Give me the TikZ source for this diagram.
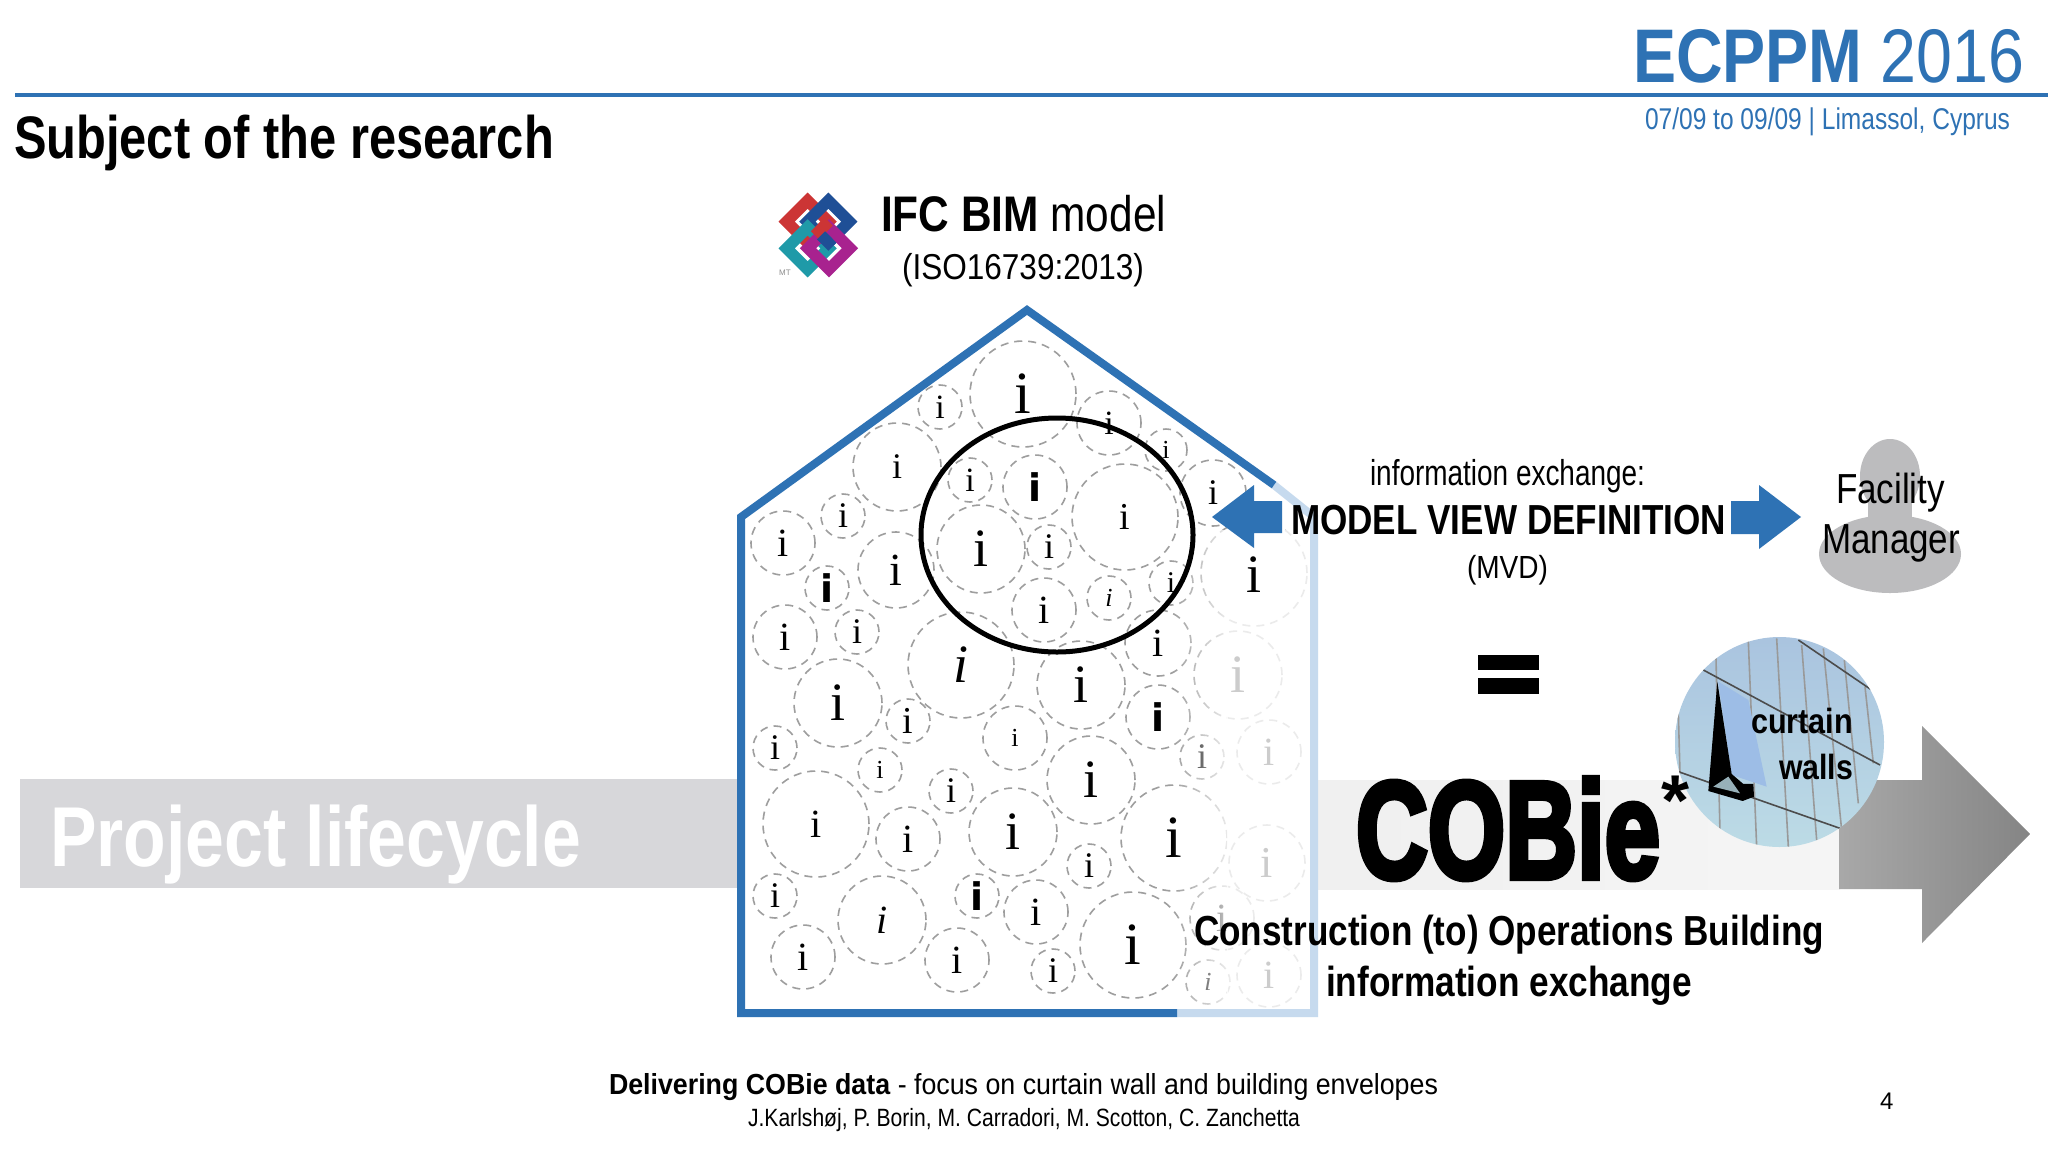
\documentclass[tikz,border=0pt]{standalone}
\usepackage{graphicx}
\usepackage{fontspec}
\usetikzlibrary{fadings}
\setmainfont{Liberation Sans}
\newfontfamily\bubN{Liberation Serif}
\newfontfamily\bubT{Liberation Serif}
\newfontfamily\bubB{DejaVu Sans}
\newfontfamily\heavyfont{Liberation Sans}[BoldFeatures={FakeBold=4.5}]
\definecolor{ecblue}{HTML}{2E72B4}
\definecolor{ecpale}{HTML}{C6DAEE}
\definecolor{bandgrey}{HTML}{D7D7DA}
\definecolor{manGrey}{HTML}{BCBCBE}
\definecolor{logoR}{HTML}{CC3535}
\definecolor{logoB}{HTML}{1F4F96}
\definecolor{logoT}{HTML}{1F9AA8}
\definecolor{logoM}{HTML}{A8228F}
\definecolor{glassTop}{HTML}{A9C3DF}
\definecolor{glassBot}{HTML}{BDDCE6}
\definecolor{glassPane}{HTML}{9DBDE6}
\newcommand\fs[1]{\fontsize{#1}{#1}\selectfont}
\newcommand\tw[2]{\resizebox{#1pt}{\height}{#2}}
\begin{document}
\begin{tikzpicture}[x=1pt,y=-1pt,
  lab/.style={anchor=base west,inner sep=0,outer sep=0,text=black},
  bubble/.style={draw=black!38,circle,dashed,dash pattern=on 8pt off 6pt,line width=1.6pt,inner sep=0,outer sep=0,text=black},
  gridline/.style={draw=#1,line width=1.6pt},
  ring/.style={draw=#1,line width=11.5pt,line join=miter}]
\useasboundingbox (0,0) rectangle (2048,1152);
\fill[white] (0,0) rectangle (2048,1152);

% header
\node[lab,text=ecblue] (head) at (1633,82) {\tw{391}{\fs{76}\textbf{ECPPM} 2016}};
\fill[ecblue] (15,93) rectangle (2048,97);
\node[lab,text=ecblue] (date) at (1645,129) {\tw{365}{\fs{30}07/09 to 09/09 | Limassol, Cyprus}};
\node[lab] (title) at (14,158) {\tw{540}{\fs{60}\textbf{Subject of the research}}};

% lifecycle band
\fill[bandgrey] (20,779) rectangle (738,888);
\node[lab,text=white] (life) at (50,866) {\tw{531}{\fs{85}\textbf{Project lifecycle}}};
\shade[left color=black!6,right color=black!4] (1318,780) rectangle (1840,889);
\shade[left color=black!34,right color=black!48]
  (1839,780) -- (1922,780) -- (1922,726) -- (2030,834) -- (1922,943) -- (1922,889) -- (1839,889) -- cycle;

% bubbles
\foreach \px/\py/\rad/\siz/\kd [count=\n] in {
1023/394/53/60/N,940/407/22/34/N,897/467/44/36/N,1109/423/32/34/N,1166/450/21/26/N,
1213/493/33/36/N,843/516/22/36/N,783/543/32/40/N,970/480/22/34/N,1035/487/32/38/B,
1125/517/53/38/N,981/549/44/54/N,1049/547/22/36/N,896/570/38/46/N,827/588/22/38/B,
1044/610/32/40/N,1109/598/22/26/T,1171/583/22/30/N,785/637/32/40/N,857/632/22/36/N,
961/665/53/54/T,1081/685/44/54/N,1158/643/33/40/N,1238/675/44/54/N,838/703/44/54/N,
908/721/22/38/N,1015/738/32/26/N,1158/717/32/38/B,775/748/22/36/N,880/770/22/26/N,
1202/757/22/36/N,1269/752/32/40/N,816/824/53/40/N,951/791/22/36/N,908/839/32/40/N,
1013/832/44/54/N,1091/780/44/54/N,1174/838/53/60/N,1089/866/22/36/N,1267/863/38/44/N,
775/896/22/36/N,882/920/44/40/T,977/896/22/38/B,1036/912/32/40/N,1133/945/53/60/N,
1222/918/32/40/N,803/957/32/40/N,957/960/32/40/N,1053/971/22/36/N,1208/982/22/26/T,
1269/975/32/40/N}
{
  \node[bubble,minimum size=2*\rad*1pt] (b\n) at (\px,\py)
    {\fs{\siz}\csname bub\kd\endcsname
     \if B\kd\bfseries\fi\if T\kd\itshape\fi i};
}
\node[bubble,minimum size=106pt] (b52) at (1254,573) {};
% fade of the right part of the house
\fill[white,path fading=west,fill opacity=.8] (1172,530) rectangle (1228,1009);
\fill[white,fill opacity=.8] (1227,530) rectangle (1310,1009);
\node[inner sep=0] (i52) at (1254,575) {\fs{54}\bubN i};

% house
\draw[line width=8pt,ecpale,line join=miter] (1274,485) -- (1314,517) -- (1314,1013) -- (1177,1013);
\draw[line width=8pt,ecblue,line join=miter] (1177,1013) -- (741,1013) -- (741,517) -- (1027,310) -- (1274,485);
\draw[black,line width=5pt] (1057,535) ellipse [x radius=136,y radius=117];

% logo
\begin{scope}[shift={(765,185)},x=.3333pt,y=-.3333pt]
  \draw[ring=logoR] (128,47) -- (191,110) -- (128,173) -- (65,110) -- cycle;
  \draw[ring=logoB] (190,47) -- (253,110) -- (190,173) -- (127,110) -- cycle;
  \draw[ring=logoT] (128,127) -- (191,190) -- (128,253) -- (65,190) -- cycle;
  \draw[ring=logoM] (192,127) -- (255,190) -- (192,253) -- (129,190) -- cycle;
  \draw[ring=logoR] (191,110) -- (150,151);
  \draw[ring=logoB] (168,151) -- (190,173) -- (202,161);
  \node[text=black!45,inner sep=0] (mt) at (60,262) {\fs{8}MT};
\end{scope}
\node[lab] (ifc) at (881,231) {\tw{285}{\fs{50}\textbf{IFC BIM} model}};
\node[lab] (iso) at (902,279) {\tw{242}{\fs{36}(ISO16739:2013)}};

% MVD block
\fill[ecblue] (1212,517) -- (1254,485) -- (1254,501) -- (1282,501) -- (1282,533) -- (1254,533) -- (1254,548) -- cycle;
\fill[ecblue] (1801,517) -- (1759,485) -- (1759,501) -- (1731,501) -- (1731,534) -- (1759,534) -- (1759,549) -- cycle;
\node[lab] (ie) at (1370,485) {\tw{275}{\fs{36}information exchange:}};
\node[lab] (mvd) at (1291,534) {\tw{435}{\fs{42}\textbf{MODEL VIEW DEFINITION}}};
\node[lab] (mv2) at (1467,578) {\tw{81}{\fs{32}(MVD)}};

% facility manager
\fill[manGrey] (1890,554) ellipse [x radius=71,y radius=39];
\fill[manGrey] (1890,476) ellipse [x radius=30,y radius=37];
\fill[manGrey] (1868,490) rectangle (1912,530);
\node[lab] (fm1) at (1836,503) {\tw{109}{\fs{42}Facility}};
\node[lab] (fm2) at (1822,553) {\tw{138}{\fs{42}Manager}};

% equals
\fill[black] (1478,655) rectangle (1539,670);
\fill[black] (1478,678) rectangle (1539,694);

% curtain wall picture
\begin{scope}
  \clip (1779.5,742) ellipse [x radius=104.5,y radius=105];
  \shade[top color=glassTop,bottom color=glassBot] (1670,630) rectangle (1890,855);
  \begin{scope}[shift={(1660,630)},x=.3333pt,y=-.3333pt]
    \foreach \ax/\ay/\bx/\by [count=\m] in {168/85/180/610,265/35/290/650,350/25/385/650,425/45/470/630,
       490/55/545/600,553/90/595/520,615/170/640/400,55/250/60/430}
      \draw[gridline=black!40] (\ax,\ay) -- (\bx,\by);
    \foreach \ax/\ay/\bx/\by [count=\m] in {130/120/660/405,415/30/635/180,55/425/540/595}
      \draw[gridline=black!70] (\ax,\ay) -- (\bx,\by);
    \fill[glassPane] (175,155) -- (265,210) -- (320,470) -- (215,435) -- cycle;
    \fill[black] (172,155) -- (145,483) -- (248,513) -- (282,500) -- (280,462) -- (250,462) -- (215,432) -- cycle;
    \fill[glassBot!80!black] (160,470) -- (205,440) -- (240,490) -- cycle;
  \end{scope}
\end{scope}
\node[lab] (cw1) at (1751,733) {\tw{102}{\fs{35}\textbf{curtain}}};
\node[lab] (cw2) at (1779,779) {\tw{74}{\fs{35}\textbf{walls}}};

% COBie
\node[lab] (cobie) at (1356,878) {\tw{304}{\fs{138}\heavyfont\bfseries COBie}};
\node[anchor=base,inner sep=0] (star) at (1675,825) {\fs{72}\textbf{*}};
\node[lab] (con) at (1194,945) {\tw{630}{\fs{42}\textbf{Construction (to) Operations Building}}};
\node[lab] (inf) at (1326,996) {\tw{366}{\fs{42}\textbf{information exchange}}};

% footer
\node[lab] (ft1) at (609,1094) {\tw{829}{\fs{29}\textbf{Delivering COBie data} - focus on curtain wall and building envelopes}};
\node[lab] (ft2) at (748,1126) {\tw{552}{\fs{25}J.Karlshøj, P. Borin, M. Carradori, M. Scotton, C. Zanchetta}};
\node[lab] (pg) at (1880,1109) {\fs{24}4};
\end{tikzpicture}
\end{document}
